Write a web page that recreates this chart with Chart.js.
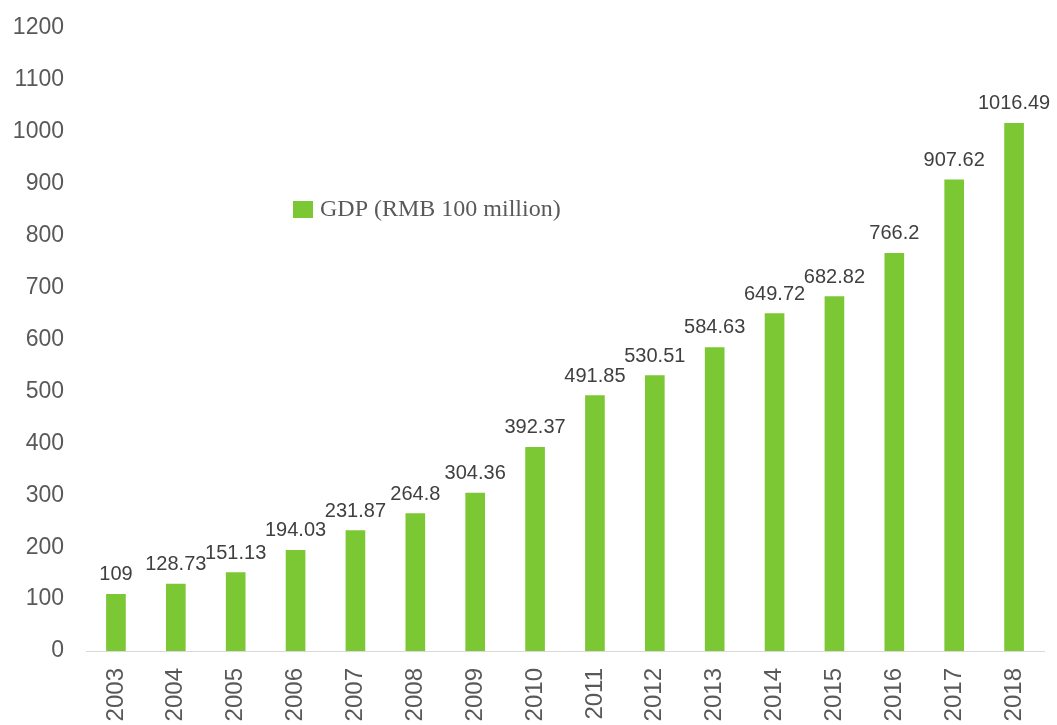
<!DOCTYPE html>
<html>
<head>
<meta charset="utf-8">
<title>GDP</title>
<script src="https://cdn.jsdelivr.net/npm/chart.js@4/dist/chart.umd.min.js"></script>
<style>
  html, body { margin: 0; padding: 0; background: #fff; }
  #wrap { width: 1057px; height: 725px; }
</style>
</head>
<body>
<div id="wrap"><canvas id="gdpChart" width="1057" height="725"></canvas></div>
<script>
// GDP by year, RMB 100 million
const years = ['2003', '2004', '2005', '2006', '2007', '2008', '2009', '2010',
               '2011', '2012', '2013', '2014', '2015', '2016', '2017', '2018'];
const gdp = [109, 128.73, 151.13, 194.03, 231.87, 264.8, 304.36, 392.37,
             491.85, 530.51, 584.63, 649.72, 682.82, 766.2, 907.62, 1016.49];
const yTicks = [0, 100, 200, 300, 400, 500, 600, 700, 800, 900, 1000, 1100, 1200];
const seriesLabel = 'GDP (RMB 100 million)';

const barGreen = '#7cc734';
const textGray = '#595959';

// value printed above each bar
const valueLabels = {
    id: 'valueLabels',
    afterDatasetsDraw(chart) {
        const ctx = chart.ctx;
        const meta = chart.getDatasetMeta(0);
        ctx.save();
        ctx.font = '20px Arial, "Liberation Sans", sans-serif';
        ctx.fillStyle = '#404040';
        ctx.textAlign = 'center';
        ctx.textBaseline = 'alphabetic';
        meta.data.forEach((bar, i) => {
            ctx.fillText(String(chart.data.datasets[0].data[i]), bar.x, bar.y - 14);
        });
        ctx.restore();
    }
};

// legend floating inside the plot
const floatingLegend = {
    id: 'floatingLegend',
    afterDraw(chart) {
        const ctx = chart.ctx;
        const ds = chart.data.datasets[0];
        ctx.save();
        ctx.fillStyle = ds.backgroundColor;
        ctx.fillRect(293, 201, 20, 17);
        ctx.font = '24px "Liberation Serif", "Times New Roman", serif';
        ctx.fillStyle = textGray;
        ctx.textAlign = 'left';
        ctx.textBaseline = 'middle';
        ctx.fillText(ds.label, 320, 210);
        ctx.restore();
    }
};

new Chart(document.getElementById('gdpChart'), {
    type: 'bar',
    data: {
        labels: years,
        datasets: [{
            label: seriesLabel,
            data: gdp,
            backgroundColor: barGreen,
            barThickness: 19
        }]
    },
    options: {
        responsive: false,
        animation: false,
        layout: { padding: { top: 28, right: 13, left: 0, bottom: 0 } },
        plugins: {
            legend: { display: false },
            tooltip: { enabled: false }
        },
        scales: {
            x: {
                // hidden tick marks still reserve the gap above the labels
                grid: { display: false, drawTicks: true, tickLength: 17 },
                border: { display: true, color: '#d9d9d9', width: 1 },
                ticks: {
                    color: textGray,
                    font: { size: 24, family: 'Arial, "Liberation Sans", sans-serif' },
                    minRotation: 90,
                    maxRotation: 90,
                    padding: 0
                },
                afterFit(scale) { scale.height = 74; }
            },
            y: {
                min: 0,
                max: 1200,
                afterBuildTicks(scale) {
                    scale.ticks = yTicks.map(v => ({ value: v }));
                },
                grid: { display: false, drawTicks: true, tickLength: 22 },
                border: { display: false },
                ticks: {
                    color: textGray,
                    font: { size: 23, family: 'Arial, "Liberation Sans", sans-serif' },
                    padding: 0,
                    callback: v => String(v)
                },
                afterFit(scale) { scale.width = 86; }
            }
        }
    },
    plugins: [valueLabels, floatingLegend]
});
</script>
</body>
</html>
